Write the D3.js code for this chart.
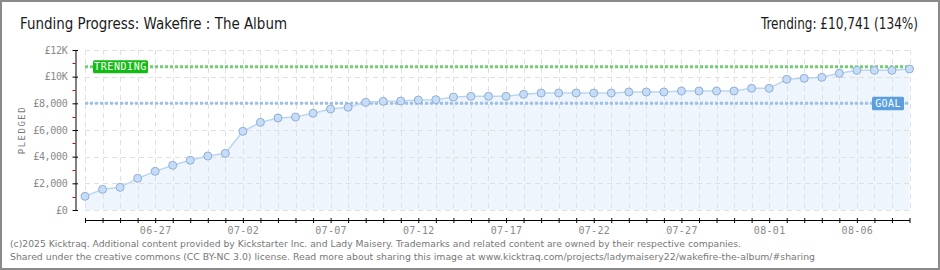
<!DOCTYPE html>
<html><head><meta charset="utf-8">
<script src="https://cdn.jsdelivr.net/npm/d3@7/dist/d3.min.js"></script>
<style>
html,body{margin:0;padding:0;background:#fff;}
svg{display:block;}
.px{font-family:"DejaVu Sans Mono",monospace;}
</style></head><body>
<svg id="c" width="940" height="270"></svg>
<script>
const startDate = "2025-06-23";
const pledged = [1025,1550,1700,2375,2900,3350,3725,4050,4250,5900,6575,6900,6975,7250,7575,7700,
  8075,8150,8175,8250,8275,8475,8525,8525,8525,8675,8775,8775,8775,8775,8775,8850,
  8850,8850,8925,8925,8925,8925,9125,9125,9800,9875,9950,10250,10475,10475,10475,10575];
const goal = 8000;
const trending = 10741;
const yTicks = [0,2000,4000,6000,8000,10000,12000];
const yTickLabels = ["£0","£2,000","£4,000","£6,000","£8,000","£10K","£12K"];
const yMinor = [1000,3000,5000,7000,9000,11000];
const titleText = "Funding Progress: Wakefire : The Album";
const trendText = "Trending: £10,741 (134%)";
const footer = ["(c)2025 Kicktraq. Additional content provided by Kickstarter Inc. and Lady Maisery. Trademarks and related content are owned by their respective companies.",
 "Shared under the creative commons (CC BY-NC 3.0) license. Read more about sharing this image at www.kicktraq.com/projects/ladymaisery22/wakefire-the-album/#sharing"];

const day = 864e5;
const t0 = new Date(startDate + "T00:00:00Z");
const dates = pledged.map((_, i) => new Date(t0.getTime() + i*day));
const fmt = d3.utcFormat("%m-%d");

const svg = d3.select("#c");
const x = d3.scaleUtc().domain([dates[0], dates[dates.length-1]]).range([85, 909.5]);
const y = d3.scaleLinear().domain([0, 12000]).range([210, 50]);

// border
svg.append("rect").attr("x",1).attr("y",1).attr("width",938).attr("height",268)
  .attr("fill","#fff").attr("stroke","#8a8a8a").attr("stroke-width",2);

// area
const area = d3.area().x((d,i)=>x(dates[i])).y0(y(0)).y1(d=>y(d));
svg.append("path").datum(pledged).attr("d",area).attr("fill","#eef5fd");

// grid
const g = svg.append("g").attr("stroke","#e0e0e0").attr("stroke-dasharray","5,4").attr("stroke-width",1);
dates.forEach(d=>{ g.append("line").attr("x1",Math.round(x(d))+0.5).attr("x2",Math.round(x(d))+0.5).attr("y1",y(12000)).attr("y2",y(0)); });
yTicks.forEach(v=>{ g.append("line").attr("x1",85).attr("x2",910).attr("y1",Math.round(y(v))+0.5).attr("y2",Math.round(y(v))+0.5); });

// goal and trending lines
svg.append("line").attr("x1",85).attr("x2",910).attr("y1",y(goal)).attr("y2",y(goal))
  .attr("stroke","#9fc0e6").attr("stroke-width",3).attr("stroke-dasharray","3,2");
svg.append("line").attr("x1",85).attr("x2",910).attr("y1",y(trending)).attr("y2",y(trending))
  .attr("stroke","#6fd06f").attr("stroke-width",3).attr("stroke-dasharray","3,2");

// line
const line = d3.line().x((d,i)=>x(dates[i])).y(d=>y(d));
svg.append("path").datum(pledged).attr("d",line).attr("fill","none").attr("stroke","#b9d7f4").attr("stroke-width",1.5);
svg.append("g").selectAll("circle").data(pledged).join("circle")
  .attr("cx",(d,i)=>x(dates[i])).attr("cy",d=>y(d)).attr("r",4)
  .attr("fill","#c5ddf8").attr("stroke","#93aed0").attr("stroke-width",1);

// labels boxes
const tb = svg.append("g");
tb.append("rect").attr("x",93).attr("y",y(trending)-6.5).attr("width",55).attr("height",13).attr("rx",1.5).attr("fill","#15bb15");
tb.append("text").attr("class","px").attr("x",120.5).attr("y",y(trending)+3.5).attr("text-anchor","middle")
  .attr("fill","#fff").attr("font-size",10).attr("letter-spacing",0.6).text("TRENDING");
const gb = svg.append("g");
gb.append("rect").attr("x",872).attr("y",y(goal)-6.5).attr("width",32).attr("height",13.5).attr("rx",1.5).attr("fill","#5b9fe0");
gb.append("text").attr("class","px").attr("x",888).attr("y",y(goal)+3.8).attr("text-anchor","middle")
  .attr("fill","#fff").attr("font-size",10).attr("letter-spacing",0.4).text("GOAL");

// y axis
const yAxis = d3.axisLeft(y).tickValues(yTicks).tickFormat((d,i)=>yTickLabels[i]).tickSizeInner(3).tickSizeOuter(0).tickPadding(5);
const ya = svg.append("g").attr("transform","translate(75.5,0)").call(yAxis);
ya.select(".domain").attr("stroke","#000");
ya.selectAll(".tick line").attr("stroke","#000").attr("x1",2.5);
ya.selectAll(".tick text").attr("class","px").attr("fill","#8a8a8a").attr("font-size",10).attr("letter-spacing",-0.3);
const ym = svg.append("g");
yMinor.forEach(v=>{ ym.append("line").attr("x1",72.5).attr("x2",75.5).attr("y1",Math.round(y(v))+0.5).attr("y2",Math.round(y(v))+0.5).attr("stroke","#e00000"); });

svg.append("text").attr("class","px").attr("transform","translate(25,130) rotate(-90)").attr("text-anchor","middle")
  .attr("fill","#777").attr("font-size",9).attr("letter-spacing",1.5).text("PLEDGED");

// x axis
const xAxis = d3.axisBottom(x).tickValues(dates).tickFormat((d,i)=> (i-4)%5===0 ? fmt(d) : "").tickSizeInner(2.5).tickSizeOuter(0).tickPadding(4);
const xa = svg.append("g").attr("transform","translate(0,220.5)").call(xAxis);
xa.select(".domain").attr("stroke","#000").attr("d","M85,0H910");
xa.selectAll(".tick line").attr("stroke","#000").attr("y1",-2.5);
xa.selectAll(".tick text").attr("class","px").attr("fill","#8a8a8a").attr("font-size",10).attr("letter-spacing",0.3);

// titles
svg.append("text").attr("x",20).attr("y",29).attr("font-family","'DejaVu Sans Condensed','Liberation Sans Narrow',sans-serif")
  .attr("font-size",15).attr("fill","#1a1a1a").attr("textLength",267).attr("lengthAdjust","spacingAndGlyphs").text(titleText);
svg.append("text").attr("x",761).attr("y",29).attr("font-family","'DejaVu Sans Condensed','Liberation Sans Narrow',sans-serif")
  .attr("font-size",15).attr("fill","#1a1a1a").attr("textLength",157).attr("lengthAdjust","spacingAndGlyphs").text(trendText);

// footer
svg.append("text").attr("x",10).attr("y",247).attr("font-family","'DejaVu Sans',sans-serif").attr("font-size",9.5).attr("fill","#777")
  .attr("textLength",731).attr("lengthAdjust","spacingAndGlyphs").text(footer[0]);
svg.append("text").attr("x",10).attr("y",259.5).attr("font-family","'DejaVu Sans',sans-serif").attr("font-size",9.5).attr("fill","#777")
  .attr("textLength",805).attr("lengthAdjust","spacingAndGlyphs").text(footer[1]);
</script>
</body></html>
